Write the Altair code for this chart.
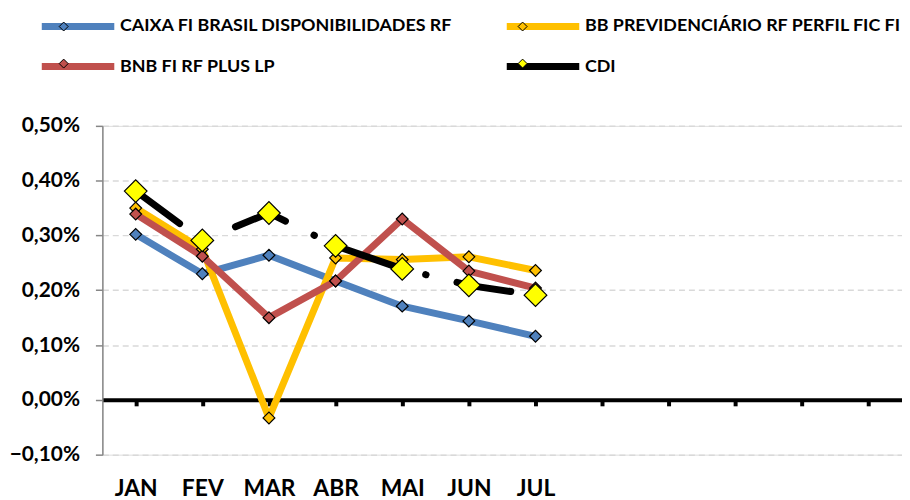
import altair as alt
import pandas as pd

meses = ['JAN', 'FEV', 'MAR', 'ABR', 'MAI', 'JUN', 'JUL', 'AGO', 'SET', 'OUT', 'NOV', 'DEZ']
meses_dados = ['JAN', 'FEV', 'MAR', 'ABR', 'MAI', 'JUN', 'JUL']
series = ['CAIXA FI BRASIL DISPONIBILIDADES RF', 'BB PREVIDENCIÁRIO RF PERFIL FIC FI',
          'BNB FI RF PLUS LP', 'CDI']
# legend is laid out column by column: this order gives CAIXA, BB on row 1
legend_order = [series[0], series[2], series[1], series[3]]
caixa = [0.302, 0.230, 0.264, 0.217, 0.171, 0.144, 0.116]
bb = [0.350, 0.275, -0.033, 0.259, 0.256, 0.261, 0.236]
bnb = [0.339, 0.262, 0.150, 0.217, 0.330, 0.235, 0.204]
cdi = [0.381, 0.291, 0.341, 0.281, 0.239, 0.209, 0.191]
y_ticks = [-0.1, 0.0, 0.1, 0.2, 0.3, 0.4, 0.5]

line_colors = {'CAIXA FI BRASIL DISPONIBILIDADES RF': '#4F81BD',
               'BB PREVIDENCIÁRIO RF PERFIL FIC FI': '#FFC000',
               'BNB FI RF PLUS LP': '#C0504D', 'CDI': '#000000'}
marker_colors = {'CAIXA FI BRASIL DISPONIBILIDADES RF': '#4F81BD',
                 'BB PREVIDENCIÁRIO RF PERFIL FIC FI': '#FFC000',
                 'BNB FI RF PLUS LP': '#C0504D', 'CDI': '#FFFF00'}

SUF = '#'  # marker legend uses its own domain so that it is not merged
rows = []
for name, vals in zip(series, [caixa, bb, bnb, cdi]):
    for m, v in zip(meses_dados, vals):
        rows.append({'mes': m, 'serie': name, 'serie_m': name + SUF, 'valor': v})
df = pd.DataFrame(rows)

FONT = 'Lato'

x_enc = alt.X('mes:N', sort=meses,
              scale=alt.Scale(domain=meses, paddingInner=0, paddingOuter=0),
              axis=alt.Axis(orient='bottom', offset=-55.17, title=None, grid=False,
                            domainColor='black', domainWidth=4,
                            ticks=True, tickColor='black', tickWidth=4, tickSize=6,
                            bandPosition=0, labelAngle=0,
                            labelExpr="indexof(['AGO','SET','OUT','NOV','DEZ'], datum.value) >= 0 ? '' : datum.value",
                            labelPadding=72, labelFont=FONT, labelFontSize=23,
                            labelFontWeight='bold', labelColor='black'))
y_enc = alt.Y('valor:Q',
              scale=alt.Scale(domain=[-0.1, 0.5], nice=False, zero=False),
              axis=alt.Axis(title=None, values=y_ticks,
                            labelExpr="replace(format(datum.value, '.2f'), '.', ',') + '%'",
                            labelFont=FONT, labelFontSize=21, labelFontWeight='bold',
                            labelColor='black', labelPadding=16,
                            domainColor='#868686', domainWidth=1.5,
                            tickColor='#868686', tickWidth=1.5, tickSize=7,
                            grid=True, gridColor='#D9D9D9', gridDash=[6, 4], gridWidth=1.5))

SYM_SIZE = 592  # sqrt = 24.3
LINE_PATH = 'M-3,0H3'
DIAMOND_PATH = 'M0,-0.37L0.37,0L0,0.37L-0.37,0Z'

legend_lines = alt.Legend(title=None, orient='none', legendX=-40.5, legendY=-116,
                          columns=2, columnPadding=39.1, rowPadding=10.3,
                          symbolType=LINE_PATH, symbolSize=SYM_SIZE, symbolStrokeWidth=7,
                          labelFont=FONT, labelFontSize=18, labelFontWeight='bold',
                          labelColor='black', labelOffset=26.2, padding=0, labelLimit=500,
                          zindex=1)
legend_marks = alt.Legend(title=None, orient='none', legendX=-37.45, legendY=-113,
                          columns=2, columnPadding=441, rowPadding=15.3,
                          symbolType=DIAMOND_PATH, symbolSize=SYM_SIZE, symbolStrokeWidth=1,
                          symbolStrokeColor='black', symbolOffset=-14.5,
                          labelExpr="''",
                          labelFont=FONT, labelFontSize=18, labelFontWeight='bold',
                          labelOffset=0, padding=0, labelLimit=500,
                          zindex=2)

color_enc = alt.Color('serie:N',
                      scale=alt.Scale(domain=legend_order,
                                      range=[line_colors[s] for s in legend_order]),
                      legend=legend_lines)

base = alt.Chart(df)

lines = base.transform_filter(alt.datum.serie != 'CDI').mark_line(
    strokeWidth=7, strokeJoin='round', strokeCap='round'
).encode(x=x_enc, y=y_enc, color=color_enc, detail='serie:N')

cdi_line = base.transform_filter(alt.datum.serie == 'CDI').mark_line(
    strokeWidth=7, strokeCap='round', strokeDash=[55, 32, 0.5, 32]
).encode(x=x_enc, y=y_enc, color=color_enc)

points = base.mark_point(shape='diamond', filled=True, stroke='black', strokeWidth=1.2,
                         opacity=1).encode(
    x=x_enc, y=y_enc,
    fill=alt.Fill('serie_m:N',
                  scale=alt.Scale(domain=[s + SUF for s in legend_order],
                                  range=[marker_colors[s] for s in legend_order]),
                  legend=legend_marks),
    size=alt.condition("datum.serie == 'CDI'", alt.value(520), alt.value(140))
)

chart = alt.layer(lines, cdi_line, points).properties(
    width=805, height=331,
    autosize=alt.AutoSizeParams(type='none'),
    padding={'left': 95, 'top': 117, 'right': 0, 'bottom': 44}
).configure_view(stroke=None).configure(background='white')

chart.save('out.html', embed_options={'renderer': 'svg', 'actions': False})
